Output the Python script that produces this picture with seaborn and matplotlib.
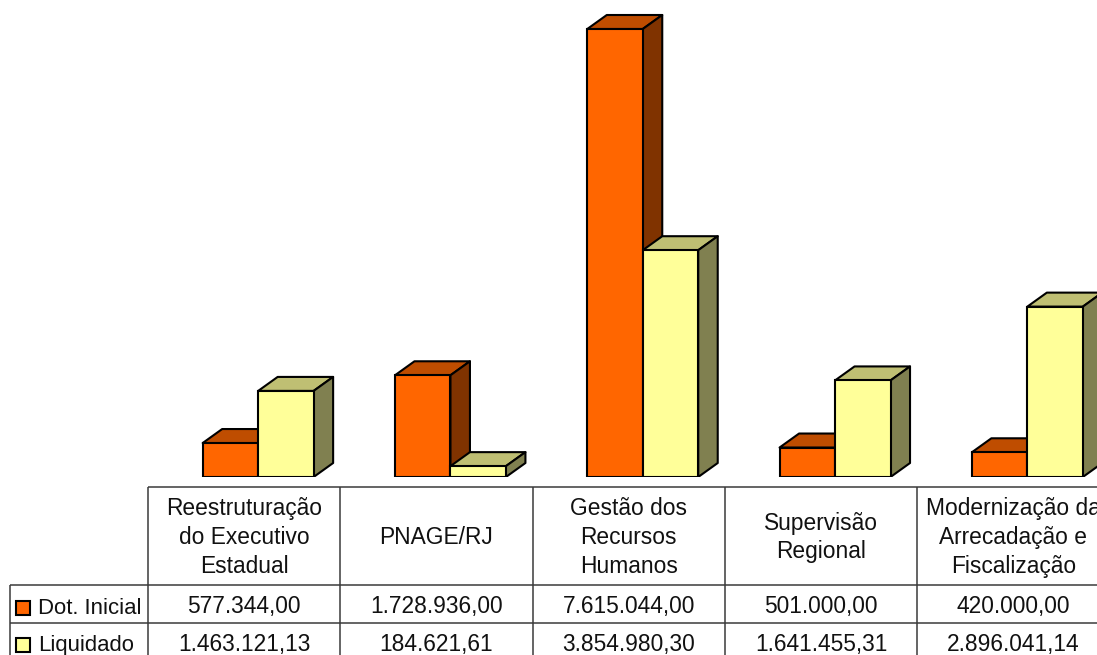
import matplotlib
matplotlib.use("Agg")
import matplotlib.pyplot as plt
from matplotlib.patches import Polygon, Rectangle
import pandas as pd
import seaborn as sns

categories = ["Reestruturação\ndo Executivo\nEstadual", "PNAGE/RJ", "Gestão dos\nRecursos\nHumanos",
              "Supervisão\nRegional", "Modernização da\nArrecadação e\nFiscalização"]
dot_inicial = [577344.00, 1728936.00, 7615044.00, 501000.00, 420000.00]
liquidado = [1463121.13, 184621.61, 3854980.30, 1641455.31, 2896041.14]
series_names = ["Dot. Inicial", "Liquidado"]

W, H = 1097, 655
BASE_Y = 477        # bar baseline, pixels from top
PX_PER_UNIT = 448 / 7615044
DEPTH_X, DEPTH_Y = 19.5, 14
COL_W = 192.3
TABLE_X = 148
BAR_SHIFT = 14      # bars sit a bit right of their table column

front = ["#FF6600", "#FFFF99"]
top = ["#BF4D00", "#BFBF73"]
side = ["#803300", "#808050"]


def fmt_br(v):
    return f"{v:,.2f}".replace(",", "X").replace(".", ",").replace("X", ".")


sns.set_theme(style="white", rc={"font.family": ["Liberation Sans", "DejaVu Sans"]})
plt.rcParams["font.family"] = ["Liberation Sans", "DejaVu Sans"]

fig = plt.figure(figsize=(W / 100, H / 100), dpi=100)

# Bars
ax_x = TABLE_X + BAR_SHIFT
ax = fig.add_axes([ax_x / W, 1 - BASE_Y / H, (W - ax_x) / W, BASE_Y / H])
df = pd.DataFrame({
    "cat": categories * 2,
    "serie": [series_names[0]] * 5 + [series_names[1]] * 5,
    "valor": dot_inicial + liquidado,
})
sns.barplot(data=df, x="cat", y="valor", hue="serie", hue_order=series_names,
            palette=front, width=0.577, gap=0, saturation=1, legend=False,
            edgecolor="#000000", linewidth=1.5, zorder=5, ax=ax)
ax.set_xlim(-0.5, (W - ax_x) / COL_W - 0.5)
ax.set_ylim(0, BASE_Y / PX_PER_UNIT)
ax.axis("off")

# Fake 3D depth faces, offset from each bar in data units
dx = DEPTH_X / COL_W
dy = DEPTH_Y / PX_PER_UNIT
for s, container in enumerate(ax.containers):
    for bar in container:
        x0, w, h = bar.get_x(), bar.get_width(), bar.get_height()
        x1 = x0 + w
        ax.add_patch(Polygon([(x0, h), (x1, h), (x1 + dx, h + dy), (x0 + dx, h + dy)],
                             fc=top[s], ec="#000000", lw=1.5, zorder=1 + s, joinstyle="round"))
        ax.add_patch(Polygon([(x1, 0), (x1 + dx, dy), (x1 + dx, h + dy), (x1, h)],
                             fc=side[s], ec="#000000", lw=1.5, zorder=1 + s, joinstyle="round"))

# Data table, in pixel coordinates
tb = fig.add_axes([0, 0, 1, 1], facecolor="none")
tb.set_xlim(0, W)
tb.set_ylim(H, 0)
tb.axis("off")

TABLE_TOP, HEAD_BOTTOM, ROW_LINE = 487, 585, 623
LINE = dict(color="#3a3a3a", lw=1.1, solid_capstyle="butt")
tb.plot([TABLE_X, W], [TABLE_TOP, TABLE_TOP], **LINE)
tb.plot([10, W], [HEAD_BOTTOM, HEAD_BOTTOM], **LINE)
tb.plot([10, W], [ROW_LINE, ROW_LINE], **LINE)
tb.plot([10, 10], [HEAD_BOTTOM, H], **LINE)
for i in range(5):
    xl = TABLE_X + i * COL_W
    tb.plot([xl, xl], [TABLE_TOP, H], **LINE)

FS = 16.4
for i, cat in enumerate(categories):
    cx = TABLE_X + (i + 0.5) * COL_W
    tb.text(cx, 537.5, cat, ha="center", va="center", fontsize=FS, color="#111111", linespacing=1.31)
    tb.text(cx, 606, fmt_br(dot_inicial[i]), ha="center", va="center", fontsize=FS, color="#111111")
    tb.text(cx, 644.5, fmt_br(liquidado[i]), ha="center", va="center", fontsize=FS, color="#111111")

# Legend keys in the first table column
for name, col, y0, yc in zip(series_names, front, [600.5, 638], [608, 645]):
    tb.add_patch(Rectangle((16, y0), 14, 14, fc=col, ec="#000000", lw=1.5))
    tb.text(38, yc, name, ha="left", va="center", fontsize=15.9, color="#111111")

fig.savefig("out.png", dpi=100, facecolor="white")
